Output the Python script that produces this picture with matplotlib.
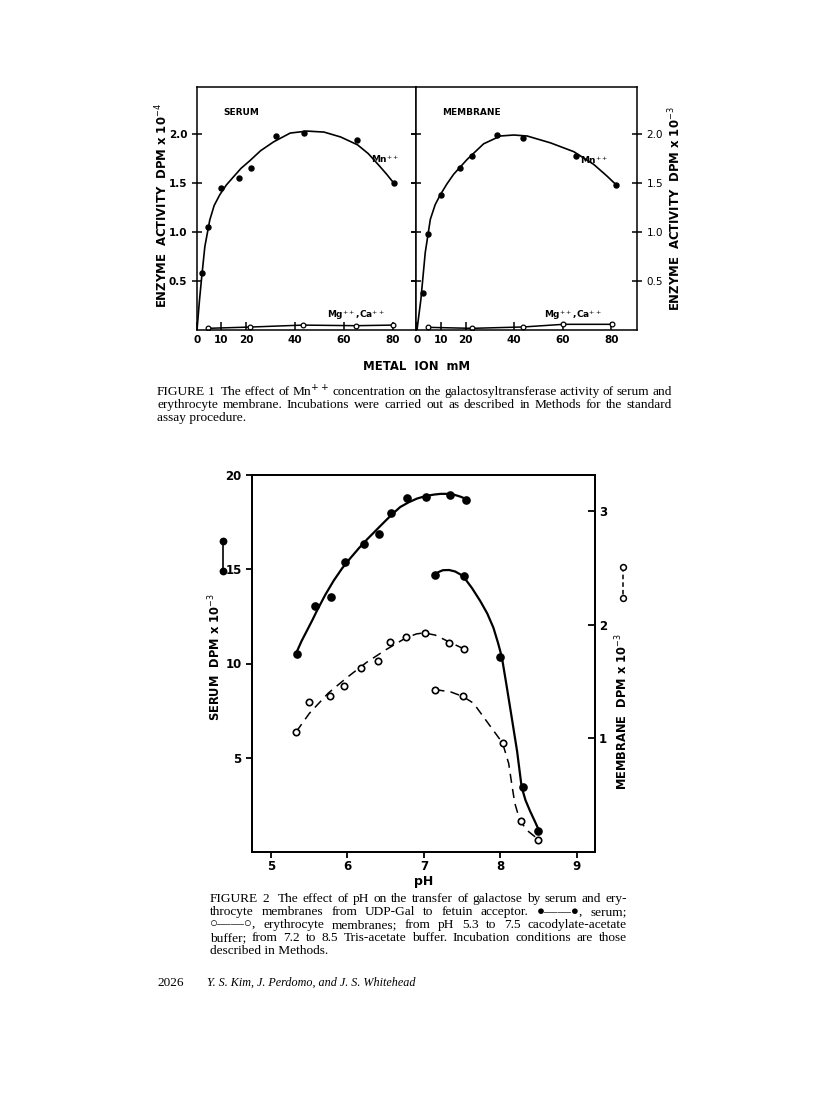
import matplotlib
matplotlib.use("Agg")
import matplotlib.pyplot as plt

W, H = 816, 1100

# ---- Figure 1 data (metal ion mM vs activity) ----
serum_mn_x = [2.1, 4.6, 10.0, 17.1, 22.1, 32.4, 43.6, 65.2, 80.4]
serum_mn_y = [0.58, 1.05, 1.45, 1.55, 1.65, 1.98, 2.01, 1.94, 1.50]
serum_fit_x = [0, 1.0, 1.8, 3.2, 5.2, 7.0, 9.3, 12.0, 14.8, 18.0, 21.7, 26.0, 31.3, 38.1, 45.0,
               51.9, 58.7, 65.6, 70.0, 74.0, 77.5, 80.4]
serum_fit_y = [0, 0.30, 0.51, 0.85, 1.12, 1.27, 1.38, 1.48, 1.56, 1.65, 1.73, 1.83, 1.92, 2.01, 2.03,
               2.02, 1.97, 1.89, 1.80, 1.69, 1.59, 1.50]
serum_mg_x = [4.3, 21.7, 43.3, 64.9, 80.0]
serum_mg_y = [0.017, 0.03, 0.05, 0.044, 0.05]

memb_mn_x = [2.3, 4.4, 9.9, 17.8, 22.8, 32.8, 43.8, 65.4, 82.0]
memb_mn_y = [0.38, 0.98, 1.38, 1.65, 1.78, 1.99, 1.96, 1.78, 1.48]
memb_fit_x = [0, 1.6, 3.4, 5.5, 7.5, 9.6, 12.3, 15.1, 20.6, 27.4, 34.3, 39.8, 45.3, 54.9, 64.5,
              72.7, 78.2, 82.0]
memb_fit_y = [0, 0.31, 0.79, 1.13, 1.28, 1.38, 1.49, 1.59, 1.74, 1.90, 1.98, 1.99, 1.98, 1.91, 1.82,
              1.69, 1.57, 1.48]
memb_mg_x = [4.7, 22.6, 43.8, 60.2, 80.4]
memb_mg_y = [0.027, 0.017, 0.031, 0.058, 0.058]

metal_ticks = [0, 10, 20, 40, 60, 80]
act_ticks = [0.5, 1.0, 1.5, 2.0]

# ---- Figure 2 data (pH) ----
ph_s1 = [5.34, 5.58, 5.79, 5.97, 6.21, 6.41, 6.57, 6.78, 7.03, 7.34, 7.55]
serum_s1 = [10.49, 13.07, 13.53, 15.41, 16.33, 16.89, 17.97, 18.76, 18.85, 18.94, 18.69]
ph_s1_fit = [5.32, 5.40, 5.47, 5.54, 5.60, 5.71, 5.82, 5.93, 6.04, 6.15, 6.26, 6.37, 6.48, 6.58,
             6.69, 6.80, 6.91, 7.02, 7.13, 7.22, 7.31, 7.40, 7.48, 7.55]
serum_s1_fit = [10.48, 11.2, 11.75, 12.3, 12.8, 13.65, 14.4, 15.05, 15.6, 16.12, 16.6, 17.05, 17.5,
                17.9, 18.3, 18.55, 18.75, 18.88, 18.96, 19.0, 19.0, 18.95, 18.85, 18.73]
ph_s2 = [7.14, 7.53, 8.00, 8.30, 8.50]
serum_s2 = [14.68, 14.65, 10.35, 3.44, 1.11]
ph_s2_fit = [7.14, 7.19, 7.25, 7.33, 7.41, 7.48, 7.52, 7.63, 7.74, 7.83, 7.91, 7.97, 8.02, 8.08,
             8.15, 8.22, 8.28, 8.33, 8.39, 8.45, 8.51]
serum_s2_fit = [14.68, 14.85, 14.95, 14.96, 14.88, 14.72, 14.6, 14.0, 13.3, 12.65, 11.9, 11.1,
                10.35, 8.89, 7.13, 5.35, 3.44, 2.75, 2.17, 1.65, 1.11]

ph_m1 = [5.33, 5.50, 5.77, 5.95, 6.18, 6.40, 6.56, 6.77, 7.01, 7.33, 7.52]
memb_m1 = [1.06, 1.32, 1.37, 1.46, 1.62, 1.68, 1.85, 1.89, 1.93, 1.84, 1.79]
ph_m1_fit = [5.33, 5.50, 5.75, 6.00, 6.25, 6.50, 6.75, 6.90, 7.00, 7.15, 7.33, 7.52]
memb_m1_fit = [1.06, 1.22, 1.40, 1.54, 1.67, 1.78, 1.88, 1.92, 1.93, 1.91, 1.85, 1.79]
ph_m2 = [7.15, 7.51, 8.03, 8.27, 8.50]
memb_m2 = [1.43, 1.37, 0.96, 0.27, 0.11]
ph_m2_fit = [7.15, 7.35, 7.51, 7.65, 7.78, 7.91, 8.03, 8.11, 8.15, 8.19, 8.26, 8.37, 8.50]
memb_m2_fit = [1.43, 1.41, 1.37, 1.31, 1.19, 1.07, 0.96, 0.78, 0.60, 0.43, 0.27, 0.18, 0.11]

ph_ticks = [5, 6, 7, 8, 9]
serum_ticks = [5, 10, 15, 20]
memb_ticks = [1, 2, 3]

serif = ["Liberation Serif", "DejaVu Serif"]

fig = plt.figure(figsize=(W / 100, H / 100), dpi=100)
fig.patch.set_facecolor("white")


def box(x0, y0, x1, y1):
    return [x0 / W, 1 - y1 / H, (x1 - x0) / W, (y1 - y0) / H]


def px(x, y):
    return x / W, 1 - y / H


def style(ax, lw, size):
    for s in ax.spines.values():
        s.set_linewidth(lw)
    ax.tick_params(width=lw, labelsize=size)
    for lab in ax.get_xticklabels() + ax.get_yticklabels():
        lab.set_fontweight("bold")


# ---------------- Figure 1 ----------------
ax1 = fig.add_axes(box(197, 87, 416, 330))
ax2 = fig.add_axes(box(416, 87, 637, 330))

for ax, fx, fy, mx, my, gx, gy, title in [
    (ax1, serum_fit_x, serum_fit_y, serum_mn_x, serum_mn_y, serum_mg_x, serum_mg_y, "SERUM"),
    (ax2, memb_fit_x, memb_fit_y, memb_mn_x, memb_mn_y, memb_mg_x, memb_mg_y, "MEMBRANE"),
]:
    ax.plot(fx, fy, color="black", lw=1.2)
    ax.plot(mx, my, "o", color="black", ms=3.6)
    ax.plot(gx, gy, color="black", lw=1.1, marker="o", mfc="white", mec="black", ms=3.4, mew=0.9)
    ax.set_ylim(0, 2.48)
    ax.set_xticks(metal_ticks)
    ax.set_yticks(act_ticks)
    ax.set_yticklabels(["0.5", "1.0", "1.5", "2.0"])
    ax.tick_params(axis="x", direction="in", length=6)
    ax.tick_params(axis="y", direction="inout", length=7)
    ax.text(0.12, 0.885, title, transform=ax.transAxes, fontsize=6.5, fontweight="bold")
    style(ax, 1.1, 7.5)

ax1.set_xlim(0, 89.5)
ax2.set_xlim(-0.4, 90.5)
ax1.tick_params(axis="y", left=True, right=True)
ax2.tick_params(axis="y", left=True, right=True, labelleft=False, labelright=True)
ax1.text(77, 1.70, "Mn$^{++}$", fontsize=6.5, fontweight="bold", ha="center")
ax2.text(73, 1.69, "Mn$^{++}$", fontsize=6.5, fontweight="bold", ha="center")
ax1.text(65, 0.12, "Mg$^{++}$,Ca$^{++}$", fontsize=6.5, fontweight="bold", ha="center")
ax2.text(64, 0.12, "Mg$^{++}$,Ca$^{++}$", fontsize=6.5, fontweight="bold", ha="center")

fig.text(*px(162, 206), "ENZYME  ACTIVITY  DPM x 10$^{-4}$", rotation=90,
         ha="center", va="center", fontsize=8.4, fontweight="bold")
fig.text(*px(675, 209), "ENZYME  ACTIVITY  DPM x 10$^{-3}$", rotation=90,
         ha="center", va="center", fontsize=8.4, fontweight="bold")
fig.text(*px(417, 367), "METAL  ION  mM", ha="center", va="center",
         fontsize=8.4, fontweight="bold")

# ---------------- Figure 2 ----------------
ax3 = fig.add_axes(box(252, 475, 595, 852))
ax4 = ax3.twinx()
ax3.plot(ph_s1_fit, serum_s1_fit, color="black", lw=1.6)
ax3.plot(ph_s2_fit, serum_s2_fit, color="black", lw=1.6)
ax3.plot(ph_s1, serum_s1, "o", color="black", ms=5.2)
ax3.plot(ph_s2, serum_s2, "o", color="black", ms=5.2)
ax4.plot(ph_m1_fit, memb_m1_fit, color="black", lw=1.1, ls=(0, (6, 4)))
ax4.plot(ph_m2_fit, memb_m2_fit, color="black", lw=1.1, ls=(0, (6, 4)))
ax4.plot(ph_m1, memb_m1, "o", mfc="white", mec="black", mew=1.2, ms=4.6)
ax4.plot(ph_m2, memb_m2, "o", mfc="white", mec="black", mew=1.2, ms=4.6)

ax3.set_xlim(4.75, 9.24)
ax3.set_ylim(0, 20)
ax4.set_ylim(0, 3.32)
ax3.set_xticks(ph_ticks)
ax3.set_yticks(serum_ticks)
ax4.set_yticks(memb_ticks)
ax3.tick_params(length=4)
ax3.tick_params(axis="x", pad=2)
ax4.tick_params(length=5, direction="in", pad=3)
style(ax3, 1.3, 8.5)
style(ax4, 1.3, 8.5)

fig.text(*px(424, 881), "pH", ha="center", va="center", fontsize=9, fontweight="bold")
fig.text(*px(215, 657), "SERUM  DPM x 10$^{-3}$", rotation=90, ha="center", va="center",
         fontsize=8.3, fontweight="bold")
fig.text(*px(622, 712), "MEMBRANE  DPM x 10$^{-3}$", rotation=90, ha="center", va="center",
         fontsize=8.3, fontweight="bold")

# little key symbols beside the axis titles
ax3.plot([-0.085, -0.085], [0.825, 0.745], transform=ax3.transAxes, clip_on=False,
         color="black", lw=1.2, marker="o", ms=4.6)
ax3.plot([1.081, 1.081], [0.756, 0.674], transform=ax3.transAxes, clip_on=False,
         color="black", lw=1.1, ls=(0, (3, 2)), marker="o", mfc="white", mec="black",
         mew=1.1, ms=4.2)

# ---------------- captions ----------------
renderer = fig.canvas.get_renderer()


def justified(lines, x0, x1, ys, size):
    for i, (line, y) in enumerate(zip(lines, ys)):
        if i == len(lines) - 1:
            fig.text(*px(x0, y), line, va="center", fontsize=size, family=serif)
            continue
        words = line.split(" ")
        ts = [fig.text(*px(0, y), w, va="center", fontsize=size, family=serif) for w in words]
        widths = [t.get_window_extent(renderer).width for t in ts]
        gap = (x1 - x0 - sum(widths)) / (len(words) - 1)
        x = x0
        for t, w in zip(ts, widths):
            t.set_x(x / W)
            x += w + gap


cap1 = [
    "FIGURE 1  The effect of Mn$^{++}$ concentration on the galactosyltransferase activity of serum and",
    "erythrocyte membrane. Incubations were carried out as described in Methods for the standard",
    "assay procedure.",
]
justified(cap1, 157, 672, [392, 405, 418], 9.6)

cap2 = [
    "FIGURE 2  The effect of pH on the transfer of galactose by serum and ery-",
    "throcyte membranes from UDP-Gal to fetuin acceptor. \u25cf\u2014\u2014\u25cf, serum;",
    "\u25cb\u2014\u2014\u25cb, erythrocyte membranes; from pH 5.3 to 7.5 cacodylate-acetate",
    "buffer; from 7.2 to 8.5 Tris-acetate buffer. Incubation conditions are those",
    "described in Methods.",
]
justified(cap2, 210, 627, [899, 912, 925, 938, 951], 9.6)

fig.text(*px(157, 983), "2026", va="center", fontsize=9.5, family=serif)
fig.text(*px(207, 983), "Y. S. Kim, J. Perdomo, and J. S. Whitehead", va="center",
         fontsize=8.7, family=serif, style="italic")

fig.savefig("out.png", dpi=100, facecolor="white")
